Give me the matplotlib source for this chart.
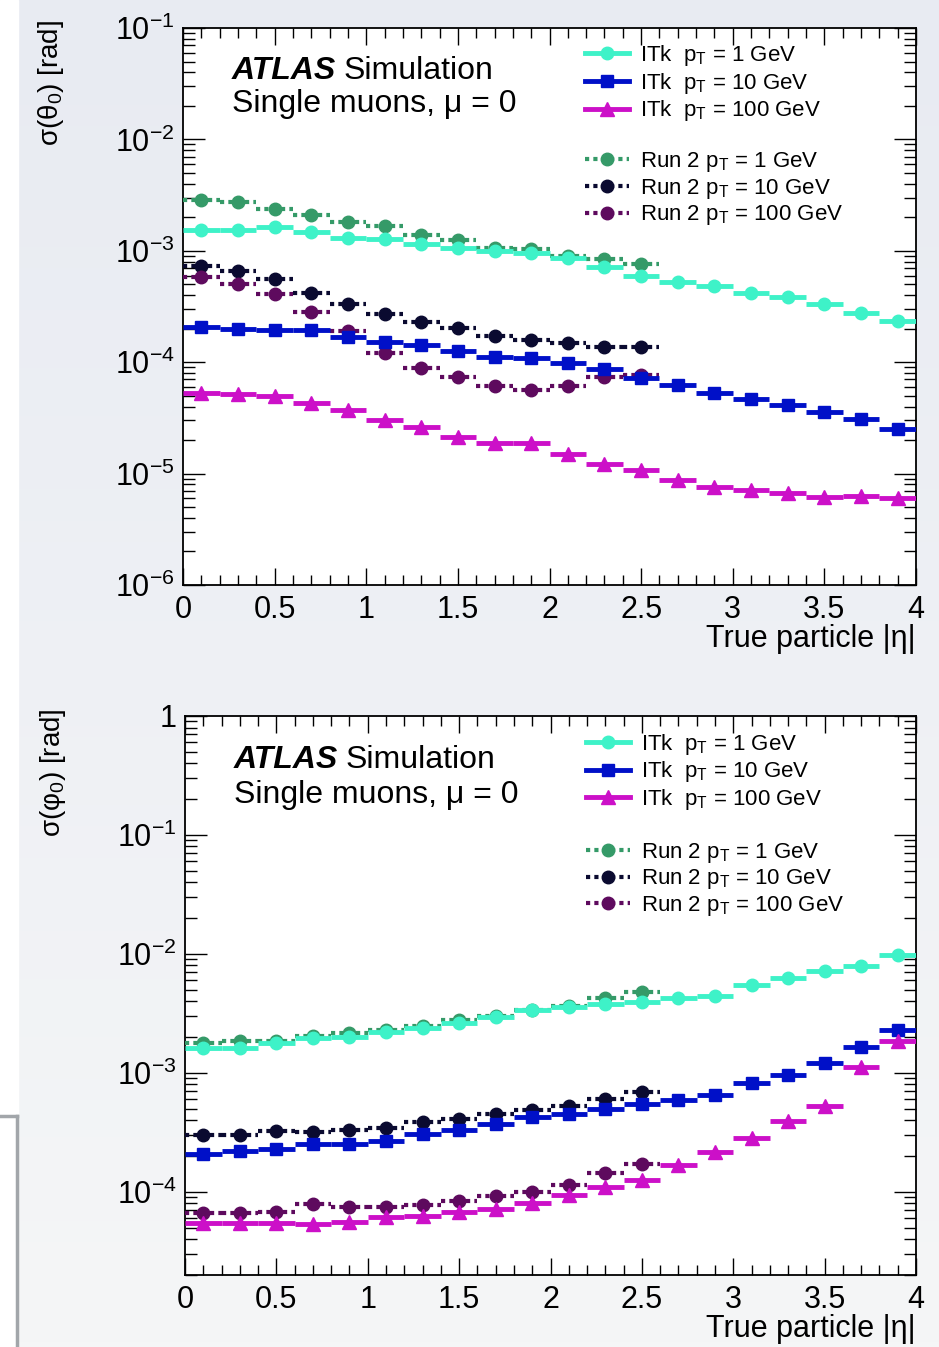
import numpy as np
from matplotlib import pyplot as plt
from matplotlib.lines import Line2D
from matplotlib.ticker import MultipleLocator, LogLocator, FuncFormatter, NullFormatter, FormatStrFormatter

plt.rcParams['font.family'] = ['Liberation Sans', 'DejaVu Sans']
plt.rcParams['mathtext.fontset'] = 'custom'
plt.rcParams['mathtext.rm'] = 'Liberation Sans'
plt.rcParams['mathtext.it'] = 'Liberation Sans:italic'
plt.rcParams['mathtext.bf'] = 'Liberation Sans:bold'

# |eta| bin centres (bins 0.2 wide)
eta_itk = [0.1, 0.3, 0.5, 0.7, 0.9, 1.1, 1.3, 1.5, 1.7, 1.9,
           2.1, 2.3, 2.5, 2.7, 2.9, 3.1, 3.3, 3.5, 3.7, 3.9]
eta_run2 = [0.1, 0.3, 0.5, 0.7, 0.9, 1.1, 1.3, 1.5, 1.7, 1.9, 2.1, 2.3, 2.5]
half_bin = 0.1

# sigma(theta_0) [rad]
theta_itk_1 = [1.55e-3, 1.55e-3, 1.64e-3, 1.47e-3, 1.31e-3, 1.28e-3, 1.15e-3, 1.05e-3, 1.00e-3, 9.5e-4,
               8.55e-4, 7.1e-4, 6.0e-4, 5.3e-4, 4.8e-4, 4.15e-4, 3.87e-4, 3.32e-4, 2.76e-4, 2.33e-4]
theta_itk_10 = [2.06e-4, 1.97e-4, 1.93e-4, 1.93e-4, 1.68e-4, 1.52e-4, 1.43e-4, 1.27e-4, 1.12e-4, 1.08e-4,
                9.8e-5, 8.7e-5, 7.2e-5, 6.3e-5, 5.24e-5, 4.63e-5, 4.12e-5, 3.57e-5, 3.08e-5, 2.51e-5]
theta_itk_100 = [5.31e-5, 5.2e-5, 4.96e-5, 4.32e-5, 3.7e-5, 3.01e-5, 2.6e-5, 2.14e-5, 1.87e-5, 1.87e-5,
                 1.51e-5, 1.23e-5, 1.07e-5, 8.73e-6, 7.62e-6, 7.11e-6, 6.73e-6, 6.21e-6, 6.3e-6, 6.0e-6]
theta_run2_1 = [2.86e-3, 2.72e-3, 2.36e-3, 2.11e-3, 1.80e-3, 1.66e-3, 1.40e-3, 1.25e-3, 1.07e-3, 1.03e-3,
                9.0e-4, 8.4e-4, 7.6e-4]
theta_run2_10 = [7.27e-4, 6.53e-4, 5.55e-4, 4.15e-4, 3.32e-4, 2.71e-4, 2.30e-4, 2.01e-4, 1.72e-4, 1.57e-4,
                 1.50e-4, 1.37e-4, 1.37e-4]
theta_run2_100 = [5.82e-4, 5.08e-4, 4.06e-4, 2.82e-4, 1.9e-4, 1.22e-4, 8.85e-5, 7.36e-5, 6.08e-5, 5.68e-5,
                  6.16e-5, 7.36e-5, 7.73e-5]

# sigma(phi_0) [rad]
phi_itk_1 = [1.61e-3, 1.62e-3, 1.77e-3, 1.95e-3, 2.01e-3, 2.22e-3, 2.37e-3, 2.61e-3, 2.97e-3, 3.39e-3,
             3.61e-3, 3.78e-3, 3.98e-3, 4.25e-3, 4.39e-3, 5.43e-3, 6.27e-3, 7.14e-3, 7.87e-3, 9.74e-3]
phi_itk_10 = [2.09e-4, 2.21e-4, 2.31e-4, 2.51e-4, 2.54e-4, 2.66e-4, 3.08e-4, 3.33e-4, 3.74e-4, 4.25e-4,
              4.53e-4, 4.99e-4, 5.5e-4, 5.94e-4, 6.58e-4, 8.24e-4, 9.68e-4, 1.21e-3, 1.64e-3, 2.29e-3]
phi_itk_100 = [5.5e-5, 5.43e-5, 5.43e-5, 5.36e-5, 5.61e-5, 6.1e-5, 6.25e-5, 6.8e-5, 7.24e-5, 8.09e-5,
               9.38e-5, 1.1e-4, 1.27e-4, 1.67e-4, 2.16e-4, 2.85e-4, 3.93e-4, 5.22e-4, 1.11e-3, 1.85e-3]
phi_run2_1 = [1.80e-3, 1.85e-3, 1.85e-3, 2.06e-3, 2.15e-3, 2.29e-3, 2.5e-3, 2.79e-3, 3.03e-3, 3.39e-3,
              3.68e-3, 4.25e-3, 4.78e-3]
phi_run2_10 = [2.99e-4, 2.99e-4, 3.24e-4, 3.18e-4, 3.33e-4, 3.44e-4, 3.86e-4, 4.12e-4, 4.53e-4, 4.9e-4,
               5.23e-4, 6.05e-4, 6.89e-4]
phi_run2_100 = [6.58e-5, 6.58e-5, 6.8e-5, 7.88e-5, 7.39e-5, 7.39e-5, 7.73e-5, 8.41e-5, 9.21e-5, 1.0e-4,
                1.15e-4, 1.43e-4, 1.73e-4]

itk_labels = [r'ITk  p$_\mathregular{T}$ = 1 GeV', r'ITk  p$_\mathregular{T}$ = 10 GeV',
              r'ITk  p$_\mathregular{T}$ = 100 GeV']
run2_labels = [r'Run 2 p$_\mathregular{T}$ = 1 GeV', r'Run 2 p$_\mathregular{T}$ = 10 GeV',
               r'Run 2 p$_\mathregular{T}$ = 100 GeV']
itk_colors = ['#3ef2c8', '#0010c8', '#cc10c8']
itk_markers = ['o', 's', '^']
itk_ms = [9, 8, 10]
run2_colors = ['#359a68', '#0a0a30', '#5e0a5e']
dotted = (0, (1, 1))


def log_label(v, pos):
    if abs(v - 1) < 1e-9:
        return '1'
    return r'$10^{%d}$' % round(np.log10(v))


def draw_panel(ax, itk_vals, run2_vals, ylabel, ylim, y_frac):
    for vals, c in zip(run2_vals, run2_colors):
        eb = ax.errorbar(eta_run2, vals, xerr=half_bin, fmt='o', color=c, ms=9,
                         elinewidth=3, capsize=0, zorder=3)
        eb.lines[2][0].set_linestyle(dotted)
    for vals, c, m, ms in zip(itk_vals, itk_colors, itk_markers, itk_ms):
        ax.errorbar(eta_itk, vals, xerr=half_bin, fmt=m, color=c, ms=ms,
                    elinewidth=3.5, capsize=0, zorder=4)

    ax.set_yscale('log')
    ax.set_xlim(0, 4)
    ax.set_ylim(*ylim)
    ax.xaxis.set_major_locator(MultipleLocator(0.5))
    ax.xaxis.set_minor_locator(MultipleLocator(0.1))
    ax.xaxis.set_major_formatter(FormatStrFormatter('%g'))
    ax.yaxis.set_major_locator(LogLocator(base=10, numticks=20))
    ax.yaxis.set_minor_locator(LogLocator(base=10, subs=np.arange(2, 10), numticks=20))
    ax.yaxis.set_major_formatter(FuncFormatter(log_label))
    ax.yaxis.set_minor_formatter(NullFormatter())
    ax.tick_params(which='both', direction='in', top=True, right=True, width=1, labelsize=22)
    ax.tick_params(axis='y', which='major', length=16, pad=6)
    ax.tick_params(axis='y', which='minor', length=8.5)
    ax.tick_params(axis='x', which='major', length=12, pad=7)
    ax.tick_params(axis='x', which='minor', length=7)
    for s in ax.spines.values():
        s.set_linewidth(1.3)

    ax.set_xlabel('True particle |η|', fontsize=22, loc='right')
    ax.xaxis.set_label_coords(1.0, -0.07)
    ax.set_ylabel(ylabel, fontsize=20, loc='top')
    ax.yaxis.set_label_coords(-0.16, 1.014)

    ax.text(0.067, y_frac[0], 'ATLAS', fontsize=23, weight='bold', style='italic',
            transform=ax.transAxes, va='baseline')
    ax.text(0.219, y_frac[0], 'Simulation', fontsize=23, transform=ax.transAxes, va='baseline')
    ax.text(0.067, y_frac[1], 'Single muons, μ = 0', fontsize=23, transform=ax.transAxes,
            va='baseline')

    h_itk = [Line2D([], [], color=c, lw=3.5, marker=m, ms=ms)
             for c, m, ms in zip(itk_colors, itk_markers, itk_ms)]
    h_run2 = [Line2D([], [], color=c, lw=3, ls=dotted, marker='o', ms=9) for c in run2_colors]
    kw = dict(fontsize=16, frameon=False, loc='upper left', borderaxespad=0, borderpad=0,
              handlelength=2.0, handletextpad=0.5, labelspacing=0.12)
    leg1 = ax.legend(h_itk, itk_labels, bbox_to_anchor=(0.548, y_frac[2]), **kw)
    ax.add_artist(leg1)
    ax.legend(h_run2, run2_labels, bbox_to_anchor=(0.548, y_frac[3]), **kw)


fig = plt.figure(figsize=(9.39, 13.47), dpi=100)

# screenshot-like backdrop
bg = fig.add_axes([0, 0, 1, 1], zorder=-10)
grad = np.linspace(0, 1, 256)[:, None]
top_c = np.array([232, 235, 242]) / 255
bot_c = np.array([245, 246, 247]) / 255
img = top_c[None, None, :] * (1 - grad[:, :, None]) + bot_c[None, None, :] * grad[:, :, None]
bg.imshow(img, aspect='auto', extent=[0, 1, 0, 1], origin='upper')
bg.axvspan(0, 18 / 939, color='white')
bg.plot([0, 17 / 939], [1 - 1116 / 1347] * 2, color='#a2a6aa', lw=2.5)
bg.plot([17 / 939] * 2, [0, 1 - 1116 / 1347], color='#a2a6aa', lw=2.5)
bg.set_xlim(0, 1)
bg.set_ylim(0, 1)
bg.axis('off')

ax1 = fig.add_axes([183 / 939, 1 - 585 / 1347, (916 - 183) / 939, (585 - 28) / 1347])
ax2 = fig.add_axes([185 / 939, 1 - 1275 / 1347, (916 - 185) / 939, (1275 - 716) / 1347])

draw_panel(ax1, [theta_itk_1, theta_itk_10, theta_itk_100],
           [theta_run2_1, theta_run2_10, theta_run2_100],
           r'σ(θ$_0$) [rad]', (1e-6, 1e-1), (0.908, 0.849, 0.973, 0.781))
draw_panel(ax2, [phi_itk_1, phi_itk_10, phi_itk_100],
           [phi_run2_1, phi_run2_10, phi_run2_100],
           r'σ(φ$_0$) [rad]', (2e-5, 1), (0.907, 0.844, 0.972, 0.777))

fig.savefig('out.png', dpi=100)
